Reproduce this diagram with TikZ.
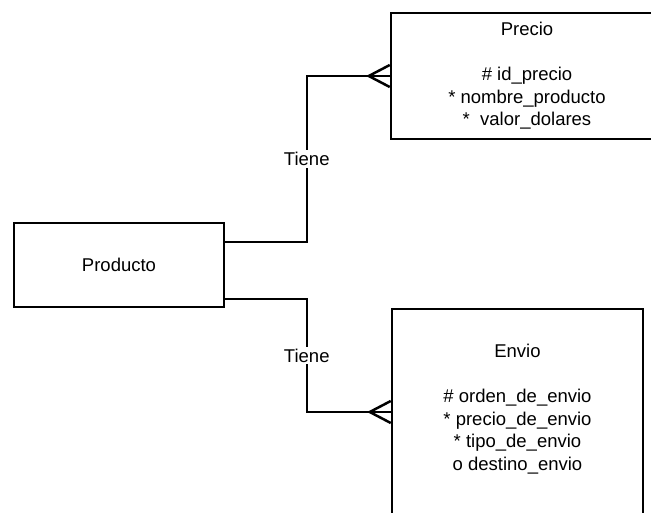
\documentclass[tikz,border=0pt]{standalone}
\usepackage{fontspec}
\setmainfont{Liberation Sans}
\usetikzlibrary{positioning,calc}

\begin{document}
\begin{tikzpicture}[x=1pt,y=-1pt,
        entity/.style={draw, rectangle, line width=2.5pt, inner sep=0pt, align=center,
            font=\fontsize{18.5}{22.5}\selectfont},
        rel/.style={line width=2.5pt},
        relname/.style={fill=white, inner sep=2pt, font=\fontsize{18.5}{22.5}\selectfont}]
        \def\crowlen{21}
        \def\crowgap{11}
        \useasboundingbox (0,0) rectangle (651,513);
        \clip (0,0) rectangle (651,513);
        % entities
        \node[entity, minimum width=210pt, minimum height=84pt] (producto) at (119,265) {Producto};
        \node[entity, minimum width=272pt, minimum height=126pt] (precio) at (527,76)
            {Precio\\[22.5pt]\# id\_precio\\* nombre\_producto\\*\ \ valor\_dolares};
        \node[entity, minimum width=251pt, minimum height=220pt, anchor=north] (envio) at (517.5,308) {};
        \node[align=center, inner sep=0pt, font=\fontsize{18.5}{22.5}\selectfont] (envio-attr)
            at ($(envio.north)+(0,101)$)
            {Envio\\[22.5pt]\# orden\_de\_envio\\* precio\_de\_envio\\* tipo\_de\_envio\\o destino\_envio};
        \coordinate (envio-in) at ($(envio.north west)+(0,104)$);
        % relations
        \draw[rel] ([yshift=23pt]producto.east) -| ($(precio.west)+(-83,0)$)
            node[relname, pos=0.75] (tiene-precio) {Tiene} -- (precio.west);
        \draw[rel] ([yshift=-34pt]producto.east) -| ($(envio-in)+(-84,0)$)
            node[relname, pos=0.75] (tiene-envio) {Tiene} -- (envio-in);
        \foreach \e in {precio.west, envio-in}
        {
            \draw[rel] ($(\e)+(0,-\crowgap)$) -- ($(\e)+(-\crowlen,0)$) -- ($(\e)+(0,\crowgap)$);
        }
    \end{tikzpicture}
\end{document}
